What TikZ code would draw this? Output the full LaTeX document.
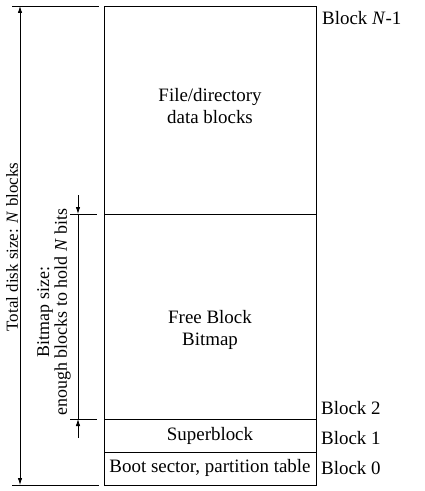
\documentclass[tikz,border=0pt]{standalone}
\usepackage{fontspec}
\setmainfont{Liberation Serif}
\usetikzlibrary{arrows.meta}
\begin{document}
\begin{tikzpicture}[x=1bp,y=-1bp,
  thinline/.style={line width=0.8bp,black},
  lbl/.style={font=\fontsize{19}{22}\selectfont,inner sep=0pt},
  rlbl/.style={font=\fontsize{18}{18}\selectfont,inner sep=0pt,rotate=90},
  blk/.style={lbl,anchor=west},
  dimarrow/.style={thinline,-{Latex[length=7bp,width=4.5bp]}},
]
\useasboundingbox (0,0) rectangle (424,491);
% box
\coordinate (tl) at (104,6);
\coordinate (br) at (316,485);
\draw[thinline] (tl) rectangle (br);
\coordinate (d1l) at (104,214); \coordinate (d1r) at (316,214);
\coordinate (d2l) at (104,419); \coordinate (d2r) at (316,419);
\coordinate (d3l) at (104,452); \coordinate (d3r) at (316,452);
\draw[thinline] (d1l) -- (d1r);
\draw[thinline] (d2l) -- (d2r);
\draw[thinline] (d3l) -- (d3r);
% region texts
\node[lbl,align=center] (data) at (210,106) {File/directory\\data blocks};
\node[lbl,align=center] (bitmap) at (210,330) {Free Block\\Bitmap};
\node[lbl] (super) at (210,436) {Superblock};
\node[lbl] (boot) at (210,468) {Boot sector, partition table};
% block labels
\node[blk] (bN) at (322,18) {Block \textit{N}-1};
\node[blk] (b2) at (321,408) {Block 2};
\node[blk] (b1) at (321,438) {Block 1};
\node[blk] (b0) at (321,468) {Block 0};
% total dimension
\coordinate (t1a) at (12,6); \coordinate (t1b) at (99,6);
\coordinate (t2a) at (12,485); \coordinate (t2b) at (99,485);
\draw[thinline] (t1a) -- (t1b);
\draw[thinline] (t2a) -- (t2b);
\coordinate (tt) at (20,6); \coordinate (tb) at (20,485);
\coordinate (tm) at (20,245);
\draw[dimarrow] (tm) -- (tt);
\draw[dimarrow] (tm) -- (tb);
\node[rlbl,font=\fontsize{17}{17}\selectfont] (total) at (12,247) {Total disk size: \textit{N} blocks};
% bitmap dimension
\coordinate (m1a) at (70,214); \coordinate (m1b) at (97,214);
\coordinate (m2a) at (70,419); \coordinate (m2b) at (97,419);
\draw[thinline] (m1a) -- (m1b);
\draw[thinline] (m2a) -- (m2b);
\coordinate (mt) at (78,195); \coordinate (mtt) at (78,214);
\coordinate (mb) at (78,438); \coordinate (mbt) at (78,419);
\draw[dimarrow] (mt) -- (mtt);
\draw[dimarrow] (mb) -- (mbt);
\draw[thinline] (mtt) -- (mbt);
\node[rlbl,align=center] (bmsize) at (54,312) {Bitmap size:\\enough blocks to hold \textit{N} bits};
\end{tikzpicture}
\end{document}
